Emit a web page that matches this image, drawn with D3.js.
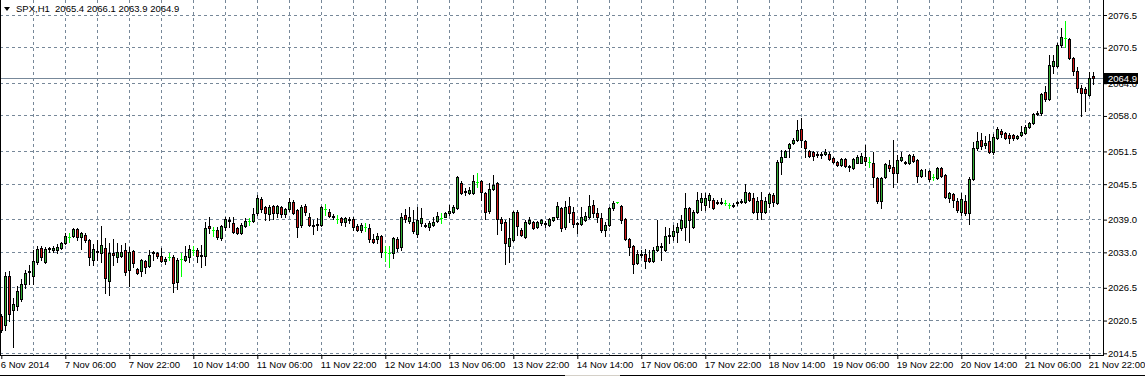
<!DOCTYPE html>
<html>
<head>
<meta charset="utf-8">
<title>SPX,H1</title>
<style>
  body { margin: 0; background: #ffffff; }
  svg { display: block; }
  text { font-family: "Liberation Sans", Arial, sans-serif; }
</style>
</head>
<body>
<div id="container"></div>
<script src="https://d3js.org/d3.v7.min.js"></script>
<script>

// HEADER
var symbol = "SPX,H1";
var lastBar = [2065.4, 2066.1, 2063.9, 2064.9];   // O H L C of the last bar
var lastPrice = 2064.9;

// X TICK LABELS (one every 16 hourly bars)
var xTickLabels = ["6 Nov 2014", "7 Nov 06:00", "7 Nov 22:00", "10 Nov 14:00", "11 Nov 06:00",
  "11 Nov 22:00", "12 Nov 14:00", "13 Nov 06:00", "13 Nov 22:00", "14 Nov 14:00", "17 Nov 06:00",
  "17 Nov 22:00", "18 Nov 14:00", "19 Nov 06:00", "19 Nov 22:00", "20 Nov 14:00", "21 Nov 06:00",
  "21 Nov 22:00"];

// Y TICK LABELS
var yTickLabels = [2076.5, 2070.5, 2064.0, 2058.0, 2051.5, 2045.5, 2039.0, 2033.0, 2026.5, 2020.5, 2014.5];

// OHLC, one value per hourly bar
var open = [
  2021.3, 2019.7, 2028.7, 2022.4, 2023.2, 2024.4, 2027.2, 2029.4, 2028.7, 2031.2,
  2033.8, 2031.2, 2033.6, 2033.4, 2033.4, 2033.8, 2034.7, 2035.8, 2036.0, 2037.3,
  2035.8, 2036.2, 2035.3, 2031.6, 2033.1, 2032.9, 2033.8, 2027.7, 2032.9, 2032.1,
  2032.3, 2033.4, 2029.8, 2033.2, 2029.9, 2029.6, 2031.4, 2030.5, 2032.9, 2032.9,
  2032.3, 2031.4, 2032.1, 2032.1, 2027.6, 2031.8, 2031.6, 2032.1, 2033.4, 2033.4,
  2032.3, 2032.3, 2037.8, 2037.1, 2037.1, 2035.6, 2037.6, 2038.9, 2038.4, 2037.5,
  2036.5, 2037.8, 2038.7, 2038.7, 2040.2, 2042.8, 2041.3, 2040.0, 2041.5, 2040.2,
  2041.3, 2040.0, 2040.9, 2042.2, 2040.8, 2038.0, 2041.5, 2039.5, 2038.0, 2038.2,
  2038.0, 2040.9, 2040.4, 2039.6, 2039.1, 2039.3, 2038.6, 2039.1, 2039.1, 2037.8,
  2037.1, 2037.6, 2037.5, 2035.4, 2035.4, 2036.0, 2033.1, 2032.9, 2032.9, 2035.4,
  2034.0, 2039.8, 2038.7, 2038.6, 2036.4, 2038.4, 2038.0, 2037.6, 2038.0, 2038.7,
  2039.3, 2039.5, 2040.2, 2040.4, 2041.1, 2045.7, 2044.2, 2043.9, 2043.9, 2045.9,
  2046.1, 2043.9, 2040.6, 2044.6, 2045.7, 2039.1, 2038.6, 2034.2, 2035.3, 2040.4,
  2037.1, 2035.8, 2038.4, 2038.6, 2037.6, 2038.4, 2038.4, 2038.0, 2038.9, 2039.5,
  2041.1, 2037.6, 2041.5, 2040.4, 2038.4, 2038.2, 2038.9, 2039.5, 2041.7, 2040.2,
  2039.3, 2037.1, 2038.0, 2041.1, 2042.2, 2041.5, 2039.1, 2035.4, 2034.2, 2031.0,
  2032.7, 2032.7, 2032.0, 2031.4, 2033.4, 2034.2, 2033.4, 2036.0, 2036.0, 2036.7,
  2037.5, 2037.6, 2041.1, 2037.6, 2040.4, 2042.2, 2041.7, 2042.6, 2042.6, 2042.0,
  2042.2, 2042.0, 2041.7, 2041.7, 2042.0, 2042.2, 2042.2, 2043.9, 2042.9, 2040.4,
  2042.6, 2040.4, 2042.0, 2043.5, 2042.0, 2049.6, 2050.5, 2052.2, 2053.0, 2053.6,
  2055.6, 2053.4, 2051.6, 2051.4, 2051.0, 2050.8, 2051.0, 2051.0, 2050.3, 2049.6,
  2049.0, 2050.1, 2048.6, 2048.5, 2049.4, 2049.4, 2050.5, 2049.6, 2049.4, 2046.6,
  2042.4, 2046.8, 2049.0, 2048.6, 2047.5, 2049.9, 2049.4, 2049.4, 2050.7, 2049.9,
  2047.0, 2047.9, 2047.9, 2046.8, 2046.6, 2048.5, 2047.2, 2042.9, 2043.7, 2042.4,
  2040.4, 2042.4, 2040.2, 2046.4, 2052.1, 2053.6, 2052.7, 2053.4, 2051.4, 2053.9,
  2055.2, 2054.9, 2054.5, 2054.5, 2053.9, 2054.5, 2054.9, 2056.0, 2056.7, 2058.5,
  2058.5, 2062.4, 2061.1, 2067.1, 2067.1, 2071.0, 2072.3, 2072.1, 2068.6, 2066.2,
  2063.1, 2062.9, 2061.8, 2065.4
];
var high = [
  2021.7, 2029.4, 2029.6, 2024.6, 2026.8, 2028.1, 2029.8, 2030.7, 2033.4, 2034.2,
  2034.2, 2034.0, 2034.0, 2034.2, 2034.5, 2034.9, 2036.5, 2036.5, 2037.5, 2037.5,
  2036.7, 2036.5, 2035.4, 2034.5, 2035.3, 2037.8, 2035.6, 2034.7, 2035.4, 2034.7,
  2034.3, 2034.7, 2034.0, 2033.4, 2030.1, 2031.8, 2031.6, 2033.4, 2033.2, 2033.1,
  2033.8, 2032.1, 2032.9, 2032.5, 2032.0, 2032.9, 2034.2, 2034.3, 2034.2, 2033.8,
  2034.3, 2038.6, 2039.5, 2037.6, 2037.6, 2038.0, 2039.5, 2039.5, 2039.5, 2037.6,
  2038.4, 2039.3, 2039.3, 2041.1, 2043.5, 2043.1, 2041.5, 2041.7, 2041.7, 2041.7,
  2041.5, 2041.1, 2042.9, 2042.6, 2040.9, 2041.7, 2041.9, 2040.2, 2038.9, 2039.3,
  2041.5, 2041.9, 2040.9, 2040.0, 2039.8, 2039.5, 2039.5, 2039.5, 2039.5, 2038.2,
  2038.4, 2038.4, 2038.2, 2036.4, 2036.5, 2036.2, 2034.2, 2034.2, 2035.8, 2035.8,
  2040.2, 2040.9, 2041.3, 2040.8, 2041.3, 2041.1, 2038.4, 2038.7, 2039.5, 2040.4,
  2040.2, 2040.4, 2041.7, 2041.7, 2047.0, 2046.1, 2044.8, 2045.0, 2047.2, 2047.5,
  2046.3, 2044.0, 2045.7, 2047.2, 2045.9, 2039.5, 2038.9, 2039.3, 2040.6, 2040.8,
  2037.5, 2038.9, 2039.5, 2038.7, 2038.7, 2039.1, 2038.7, 2039.3, 2039.5, 2042.2,
  2041.3, 2042.4, 2043.1, 2041.3, 2038.6, 2041.3, 2040.4, 2043.5, 2042.6, 2041.1,
  2040.2, 2038.6, 2041.3, 2042.4, 2042.3, 2041.7, 2039.3, 2035.6, 2034.3, 2033.4,
  2033.4, 2033.6, 2033.4, 2034.0, 2038.9, 2034.7, 2037.6, 2037.5, 2038.0, 2038.4,
  2039.8, 2043.9, 2041.3, 2040.8, 2044.1, 2043.9, 2043.9, 2043.9, 2042.9, 2042.6,
  2042.9, 2042.6, 2042.0, 2042.0, 2042.4, 2042.7, 2045.5, 2044.1, 2043.9, 2043.1,
  2044.1, 2043.1, 2043.9, 2043.9, 2049.9, 2051.8, 2051.8, 2053.0, 2053.9, 2057.3,
  2057.6, 2053.6, 2051.8, 2051.6, 2051.4, 2051.4, 2051.9, 2051.4, 2050.5, 2049.8,
  2050.3, 2050.3, 2049.0, 2050.3, 2050.8, 2051.2, 2052.7, 2050.5, 2051.4, 2046.8,
  2046.8, 2049.4, 2049.9, 2053.6, 2050.8, 2051.4, 2049.8, 2051.0, 2051.0, 2050.1,
  2048.3, 2048.3, 2048.1, 2047.4, 2048.6, 2048.6, 2047.4, 2044.1, 2043.9, 2042.9,
  2043.9, 2043.5, 2046.8, 2053.2, 2055.1, 2054.9, 2054.3, 2054.7, 2054.7, 2056.0,
  2055.6, 2055.1, 2054.9, 2054.7, 2054.5, 2056.2, 2056.3, 2056.9, 2058.5, 2058.9,
  2062.2, 2063.5, 2069.2, 2069.2, 2071.4, 2074.1, 2075.4, 2072.3, 2068.8, 2067.0,
  2063.7, 2063.3, 2066.0, 2066.1
];
var low = [
  2018.4, 2018.8, 2020.4, 2015.6, 2022.4, 2024.1, 2026.5, 2027.2, 2027.2, 2030.9,
  2031.6, 2031.0, 2033.1, 2033.1, 2032.9, 2033.6, 2034.5, 2034.9, 2035.8, 2035.3,
  2033.6, 2034.9, 2030.7, 2030.7, 2031.6, 2031.2, 2025.5, 2025.2, 2030.7, 2031.2,
  2032.1, 2028.8, 2026.8, 2030.3, 2029.0, 2028.7, 2029.2, 2030.3, 2031.6, 2032.0,
  2031.2, 2030.9, 2031.6, 2025.7, 2026.3, 2028.7, 2031.4, 2031.2, 2032.5, 2031.2,
  2030.3, 2030.7, 2036.5, 2036.0, 2035.4, 2035.3, 2037.1, 2037.6, 2036.5, 2036.4,
  2036.4, 2037.6, 2038.0, 2038.6, 2039.8, 2040.4, 2038.9, 2038.9, 2039.1, 2039.5,
  2039.5, 2039.5, 2040.6, 2040.0, 2035.8, 2037.6, 2039.8, 2037.8, 2036.4, 2037.1,
  2037.8, 2039.8, 2039.5, 2039.1, 2038.4, 2038.0, 2037.8, 2038.4, 2037.1, 2036.9,
  2036.7, 2036.9, 2034.9, 2034.7, 2034.7, 2032.1, 2031.4, 2030.3, 2032.0, 2033.2,
  2033.4, 2038.6, 2038.4, 2036.5, 2035.8, 2037.8, 2037.6, 2037.1, 2037.8, 2038.6,
  2038.4, 2039.4, 2039.8, 2040.2, 2040.9, 2043.7, 2043.5, 2043.7, 2043.7, 2045.0,
  2042.6, 2039.1, 2040.2, 2044.4, 2036.4, 2037.1, 2030.9, 2031.2, 2035.1, 2036.2,
  2036.0, 2035.6, 2038.2, 2037.3, 2037.4, 2038.0, 2037.6, 2037.8, 2038.7, 2039.1,
  2036.9, 2037.3, 2038.6, 2037.6, 2036.5, 2038.0, 2038.7, 2039.3, 2039.5, 2038.6,
  2036.7, 2036.0, 2037.8, 2040.8, 2042.1, 2038.4, 2035.3, 2032.5, 2029.2, 2030.8,
  2032.1, 2030.1, 2031.2, 2031.2, 2033.2, 2031.6, 2033.2, 2034.7, 2035.3, 2034.9,
  2037.1, 2035.3, 2034.9, 2037.4, 2040.2, 2040.8, 2040.8, 2041.3, 2040.9, 2041.9,
  2041.9, 2041.7, 2041.1, 2041.3, 2041.7, 2042.0, 2042.1, 2042.4, 2040.2, 2039.1,
  2039.1, 2040.2, 2041.3, 2041.5, 2041.8, 2047.4, 2050.4, 2050.5, 2052.8, 2053.4,
  2052.3, 2050.5, 2050.5, 2049.9, 2050.5, 2050.3, 2050.8, 2049.9, 2049.4, 2048.8,
  2048.8, 2048.6, 2047.9, 2048.3, 2049.3, 2049.3, 2049.0, 2048.6, 2045.0, 2042.0,
  2041.1, 2046.7, 2047.9, 2045.0, 2045.9, 2049.7, 2049.2, 2049.2, 2049.6, 2045.9,
  2046.8, 2047.0, 2046.1, 2046.3, 2046.4, 2046.8, 2042.9, 2042.2, 2041.3, 2040.4,
  2039.8, 2039.8, 2038.2, 2046.2, 2051.8, 2051.9, 2052.1, 2051.2, 2051.0, 2053.8,
  2054.1, 2053.8, 2053.0, 2053.6, 2053.8, 2054.3, 2054.7, 2055.8, 2056.5, 2058.2,
  2058.2, 2060.7, 2060.9, 2065.9, 2066.9, 2070.6, 2070.6, 2068.4, 2065.5, 2062.4,
  2058.0, 2058.9, 2061.6, 2063.9
];
var close = [
  2018.8, 2028.7, 2021.7, 2023.5, 2025.9, 2027.2, 2029.2, 2029.6, 2031.4, 2033.6,
  2032.1, 2033.6, 2033.8, 2033.8, 2034.0, 2034.7, 2036.0, 2035.8, 2037.3, 2035.8,
  2036.5, 2035.3, 2032.1, 2033.6, 2033.2, 2034.3, 2028.3, 2032.9, 2032.5, 2033.1,
  2033.1, 2029.4, 2033.1, 2031.0, 2029.2, 2031.6, 2030.3, 2032.5, 2033.1, 2032.3,
  2031.4, 2031.8, 2032.1, 2027.4, 2031.6, 2031.8, 2032.3, 2033.6, 2033.4, 2032.3,
  2032.5, 2037.5, 2037.5, 2037.1, 2035.8, 2037.8, 2039.1, 2038.7, 2036.7, 2036.5,
  2038.0, 2038.7, 2038.7, 2040.0, 2042.9, 2040.9, 2040.2, 2041.3, 2040.2, 2041.5,
  2040.0, 2040.9, 2042.2, 2040.2, 2037.6, 2041.3, 2040.4, 2038.0, 2037.8, 2038.0,
  2041.3, 2040.9, 2039.6, 2039.5, 2039.1, 2038.6, 2039.3, 2038.9, 2037.6, 2037.1,
  2038.0, 2037.6, 2035.4, 2034.9, 2036.0, 2033.1, 2033.1, 2032.9, 2035.6, 2033.8,
  2039.5, 2039.1, 2039.5, 2036.9, 2038.9, 2039.3, 2037.8, 2038.4, 2038.6, 2039.6,
  2039.3, 2040.2, 2040.6, 2041.3, 2046.8, 2043.9, 2044.1, 2044.4, 2046.1, 2045.9,
  2044.1, 2040.4, 2044.6, 2045.3, 2039.1, 2038.4, 2034.7, 2035.6, 2040.4, 2037.8,
  2036.2, 2038.6, 2038.9, 2037.5, 2038.5, 2038.9, 2038.2, 2039.1, 2039.4, 2041.5,
  2037.5, 2041.3, 2040.2, 2038.2, 2038.2, 2039.5, 2039.6, 2041.5, 2040.2, 2039.5,
  2037.1, 2038.0, 2041.1, 2042.0, 2042.2, 2038.9, 2035.4, 2034.0, 2030.9, 2032.7,
  2032.5, 2031.4, 2031.4, 2033.4, 2034.2, 2034.0, 2036.0, 2036.2, 2036.9, 2037.6,
  2038.9, 2041.1, 2038.9, 2040.4, 2042.6, 2042.9, 2042.9, 2043.5, 2041.1, 2042.2,
  2042.0, 2042.0, 2041.7, 2041.5, 2042.2, 2042.5, 2044.1, 2042.6, 2040.4, 2042.4,
  2040.4, 2042.4, 2043.7, 2042.2, 2049.6, 2050.5, 2051.6, 2052.9, 2053.6, 2055.4,
  2053.6, 2052.2, 2050.7, 2050.7, 2050.8, 2051.0, 2051.4, 2050.1, 2049.6, 2049.0,
  2050.1, 2048.8, 2048.8, 2050.1, 2050.5, 2050.7, 2049.7, 2049.6, 2046.8, 2042.4,
  2046.6, 2049.2, 2048.5, 2047.5, 2049.9, 2050.5, 2049.6, 2050.8, 2049.7, 2047.0,
  2048.1, 2048.0, 2046.4, 2046.8, 2048.5, 2047.0, 2043.1, 2043.9, 2042.6, 2040.8,
  2042.8, 2040.2, 2046.4, 2052.1, 2053.4, 2052.5, 2053.0, 2051.4, 2054.1, 2055.6,
  2054.7, 2053.9, 2053.9, 2053.9, 2054.4, 2055.1, 2056.0, 2056.7, 2058.4, 2058.3,
  2062.0, 2061.1, 2067.3, 2068.1, 2071.0, 2072.5, 2072.3, 2068.6, 2066.2, 2063.1,
  2062.2, 2062.2, 2064.9, 2064.9
];

// SET DIMENSIONS
var width = 1145, height = 377;
var plotRight = 1103, plotBottom = 355;

var bars = open.map(function (o, i) {
  return { i: i, o: o, h: high[i], l: low[i], c: close[i] };
});

var svg = d3.select("#container")
  .append("svg")
  .attr("width", width)
  .attr("height", height);

// SCALES
var x = d3.scaleLinear()
  .domain([0, bars.length - 1])
  .range([1.3, 1.3 + 4 * (bars.length - 1)]);
var y = d3.scaleLinear()
  .domain([2014.5, 2076.5])
  .range([353.3, 15]);

var px = function (i) { return Math.floor(x(i)) + 0.5; };
var py = function (v) { return Math.round(y(v)); };

// GRID
var gridColor = "#778899";
svg.append("g").selectAll("line")
  .data(yTickLabels)
  .enter().append("line")
  .attr("x1", 0).attr("x2", plotRight)
  .attr("y1", d => Math.floor(y(d)) + 0.5)
  .attr("y2", d => Math.floor(y(d)) + 0.5)
  .attr("stroke", gridColor)
  .attr("stroke-dasharray", "3,3");

var vGrid = d3.range(8, bars.length, 8);
svg.append("g").selectAll("line")
  .data(vGrid)
  .enter().append("line")
  .attr("x1", d => px(d)).attr("x2", d => px(d))
  .attr("y1", 0).attr("y2", plotBottom)
  .attr("stroke", gridColor)
  .attr("stroke-dasharray", "3,3");

// LAST PRICE LINE
svg.append("line")
  .attr("x1", 0).attr("x2", plotRight)
  .attr("y1", Math.floor(y(lastPrice)) + 0.5)
  .attr("y2", Math.floor(y(lastPrice)) + 0.5)
  .attr("stroke", gridColor);

// CANDLES
var isDoji = d => d.o === d.c;
var candles = svg.append("g");

// wicks
candles.selectAll(".wick")
  .data(bars)
  .enter().append("line")
  .attr("class", "wick")
  .attr("x1", d => px(d.i)).attr("x2", d => px(d.i))
  .attr("y1", d => py(d.h))
  .attr("y2", d => py(d.l) + 1)
  .attr("stroke", d => isDoji(d) ? "#00ff00" : "#000000");

// bodies
candles.selectAll(".body")
  .data(bars.filter(d => !isDoji(d)))
  .enter().append("rect")
  .attr("class", "body")
  .attr("x", d => px(d.i) - 1)
  .attr("y", d => py(Math.max(d.o, d.c)) + 0.5)
  .attr("width", 2)
  .attr("height", d => Math.max(0, py(Math.min(d.o, d.c)) - py(Math.max(d.o, d.c))))
  .attr("fill", d => d.c > d.o ? "#33b035" : "#d01515")
  .attr("stroke", "#000000");

// doji crosses
candles.selectAll(".doji")
  .data(bars.filter(isDoji))
  .enter().append("line")
  .attr("class", "doji")
  .attr("x1", d => px(d.i) - 1.5).attr("x2", d => px(d.i) + 1.5)
  .attr("y1", d => py(d.o) + 0.5).attr("y2", d => py(d.o) + 0.5)
  .attr("stroke", "#00ff00");

// FRAME
svg.append("line").attr("x1", 0.5).attr("x2", 0.5).attr("y1", 0).attr("y2", plotBottom + 1)
  .attr("stroke", "#000");
svg.append("line").attr("x1", plotRight + 0.5).attr("x2", plotRight + 0.5).attr("y1", 0).attr("y2", plotBottom + 1)
  .attr("stroke", "#000");
svg.append("line").attr("x1", 0).attr("x2", plotRight + 1).attr("y1", plotBottom + 0.5).attr("y2", plotBottom + 0.5)
  .attr("stroke", "#000");

// Y AXIS (right)
var yAxis = svg.append("g")
  .attr("transform", "translate(" + plotRight + ",0)")
  .call(d3.axisRight(y).tickValues(yTickLabels).tickSize(4).tickFormat(d => d.toFixed(1)));
yAxis.select(".domain").remove();
yAxis.selectAll("text")
  .attr("x", 5)
  .attr("fill", "#000")
  .style("font-family", "'Liberation Sans', Arial, sans-serif")
  .style("font-size", "9.5px");
yAxis.selectAll("line").attr("stroke", "#000");

// X AXIS (bottom)
var xTickIdx = xTickLabels.map((d, k) => k * 16);
var xAxis = svg.append("g")
  .attr("transform", "translate(0," + plotBottom + ")")
  .call(d3.axisBottom(x).tickValues(xTickIdx).tickSize(4).tickFormat((d, k) => xTickLabels[k]));
xAxis.select(".domain").remove();
xAxis.selectAll("text")
  .attr("text-anchor", "start")
  .attr("x", -1)
  .attr("y", 6)
  .attr("fill", "#000")
  .style("font-family", "'Liberation Sans', Arial, sans-serif")
  .style("font-size", "9.5px");
xAxis.selectAll("line").attr("stroke", "#000");

// LAST PRICE LABEL
var ly = Math.floor(y(lastPrice));
svg.append("rect")
  .attr("x", plotRight + 1).attr("y", ly - 5)
  .attr("width", 34).attr("height", 11)
  .attr("fill", "#000");
svg.append("text")
  .attr("x", plotRight + 5).attr("y", ly + 4)
  .attr("fill", "#fff")
  .style("font-size", "9.5px")
  .text(lastPrice.toFixed(1));

// HEADER
svg.append("path")
  .attr("d", "M4,7 L10,7 L7,11 Z")
  .attr("fill", "#000");
svg.append("text")
  .attr("x", 16).attr("y", 12)
  .attr("fill", "#000")
  .style("font-size", "9.5px")
  .attr("xml:space", "preserve")
  .text(symbol + "  " + lastBar.map(d => d.toFixed(1)).join(" "));

// BOTTOM BORDER
svg.append("line").attr("x1", 0).attr("x2", width).attr("y1", 375.5).attr("y2", 375.5)
  .attr("stroke", "#000");
svg.append("line").attr("x1", 565).attr("x2", 620).attr("y1", 375.5).attr("y2", 375.5)
  .attr("stroke", "#d4d0c8");

</script>
</body>
</html>
